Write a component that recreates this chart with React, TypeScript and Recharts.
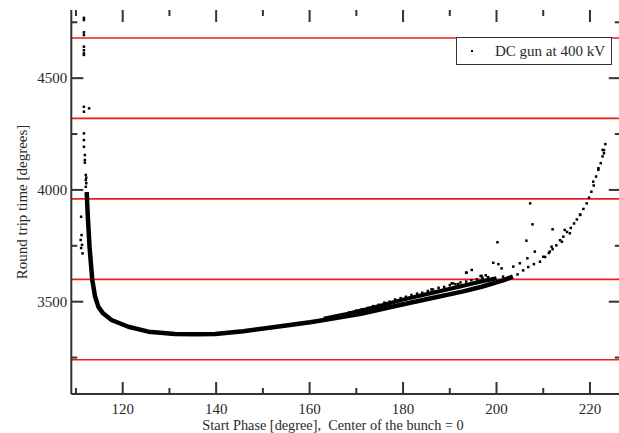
import React from "react";
import {
  ComposedChart,
  Scatter,
  XAxis,
  YAxis,
  ReferenceLine,
  Legend,
} from "recharts";

// main dense band of the bunch (drawn as a thick joined scatter)
const mainX = [112.3, 112.5, 112.7, 112.9, 113.2, 113.5, 114.1, 114.8, 115.8, 117.6, 121.2, 125.5, 131.2, 135.5, 139.8, 145.8, 153.0, 160.1, 164.3, 171.0, 178.6, 185.5, 192.9, 197.0, 201.4, 203.5];
const mainY = [3990, 3895, 3820, 3746, 3670, 3597, 3522, 3477, 3448, 3418, 3388, 3366, 3355, 3354, 3355, 3368, 3388, 3408, 3422, 3446, 3482, 3513, 3546, 3568, 3595, 3612];

// upper edge of the widened band between 163 and 200 degrees
const upperX = [163, 168, 172, 176, 180, 184, 188, 192, 196, 200];
const upperY = [3424, 3445, 3465, 3487, 3509, 3529, 3548, 3567, 3587, 3605];

// ragged particles on top of the band
const spreadX = [168.5, 170.0, 171.2, 172.5, 173.6, 174.8, 176.0, 177.1, 178.3, 179.5, 180.6, 181.8, 183.0, 184.1, 185.3, 186.4, 187.6, 188.8, 190.0, 191.2, 192.3, 193.5, 194.6, 195.8, 197.0, 198.2];
const spreadY = [3452, 3460, 3466, 3472, 3480, 3486, 3496, 3500, 3510, 3516, 3522, 3530, 3536, 3540, 3548, 3554, 3562, 3566, 3574, 3578, 3586, 3590, 3596, 3600, 3606, 3610];

// single points on the rising tail
const tailX = [204.5, 205.7, 206.8, 208.0, 209.3, 210.4, 211.2, 212.0, 212.8, 213.6, 214.3, 215.1, 215.9, 216.6, 217.2, 217.9, 218.6, 219.3, 219.8, 220.3, 220.8, 221.3, 221.8, 222.3, 222.7, 223.0, 223.3];
const tailY = [3622, 3640, 3655, 3668, 3679, 3700, 3718, 3735, 3752, 3775, 3791, 3812, 3830, 3850, 3868, 3890, 3915, 3940, 3965, 3992, 4020, 4060, 4090, 4120, 4150, 4178, 4205];

// stray particles right side
const strayRightX = [207.2, 207.7, 212.0, 200.2, 206.4, 214.6, 215.7, 217.9, 208.2, 206.6, 199.3, 200.4, 201.1, 194.7, 193.5, 203.6, 205.0, 196.6, 197.7, 190.4, 191.8, 186.1, 211.8, 214.0, 210.0, 211.4, 220.7, 221.8, 222.7, 223.0, 190.7, 196.8, 193.6, 201.4];
const strayRightY = [3940, 3846, 3824, 3766, 3773, 3821, 3806, 3888, 3724, 3694, 3674, 3668, 3649, 3642, 3630, 3657, 3672, 3615, 3618, 3582, 3579, 3555, 3746, 3768, 3701, 3724, 4037, 4097, 4179, 4164, 3582, 3615, 3630, 3612];

// stray particles near the 112 degree edge
const strayLeftX = [111.7, 111.7, 111.7, 111.7, 111.7, 111.7, 111.7, 111.7, 111.7, 112.8, 111.7, 111.7, 111.7, 111.7, 111.9, 111.9, 111.9, 112.1, 112.1, 112.1, 112.3, 112.2, 112.2, 111.1, 111.2, 111.0, 111.3, 111.4, 111.1];
const strayLeftY = [4770, 4760, 4705, 4693, 4641, 4625, 4611, 4604, 4372, 4365, 4350, 4253, 4223, 4193, 4156, 4134, 4122, 4067, 4044, 4014, 3985, 4030, 4055, 3880, 3798, 3776, 3754, 3716, 3740];

const redLevels = [3240, 3600, 3960, 4320, 4680];

const xMajor = [120, 140, 160, 180, 200, 220];
const xMinor = [110, 130, 150, 170, 190, 210];
const yMajor = [3500, 4000, 4500];
const yMinor = [3250, 3750, 4250, 4750];
const xDomain = [109, 226.6];
const yDomain = [3087, 4805];

const legendLabel = "DC gun at 400 kV";
const xTitle = "Start Phase [degree],  Center of the bunch = 0";
const yTitle = "Round trip time [degrees]";

const FONT = "'Liberation Serif', 'DejaVu Serif', serif";
const AXIS = "#333";
const TEXT = "#2a2a2a";
const GAP = 4;

const toPts = (xs: number[], ys: number[]) => xs.map((x, i) => ({ x, y: ys[i] }));
const mainData = toPts(mainX, mainY);
const upperData = toPts(upperX, upperY);
const dotData = [
  ...toPts(spreadX, spreadY),
  ...toPts(tailX, tailY),
  ...toPts(strayRightX, strayRightY),
  ...toPts(strayLeftX, strayLeftY),
];

const Dot = (p: any) => (
  <rect x={p.cx - 1.25} y={p.cy - 1.25} width={2.5} height={2.5} fill="#000" />
);
const NoDot = () => <g />;

// inward tick marks on both opposite frame edges
const vTick = (len: number) => (p: any) => {
  const a = Number(p.y1);
  const b = Number(p.y2);
  const lo = Math.max(a, b);
  const hi = Math.min(a, b);
  const x = Number(p.x1);
  return (
    <g>
      <rect x={x - 1} y={hi} width={2} height={len} fill={AXIS} />
      <rect x={x - 1} y={lo - len} width={2} height={len} fill={AXIS} />
    </g>
  );
};
const hTick = (len: number) => (p: any) => {
  const a = Number(p.x1);
  const b = Number(p.x2);
  const l = Math.min(a, b);
  const r = Math.max(a, b);
  const y = Number(p.y1);
  return (
    <g>
      <rect x={r - len} y={y - 1} width={len} height={2} fill={AXIS} />
      <rect x={l} y={y - 1} width={len} height={2} fill={AXIS} />
    </g>
  );
};

const LeftLabel = (p: any) => (
  <text x={p.x} y={p.y} dy={5} textAnchor="end" fontSize={15} fontFamily={FONT} fill={TEXT}>
    {p.payload.value}
  </text>
);

const BottomLabel = (p: any) => (
  <text x={p.x} y={p.y} dy={16} textAnchor="middle" fontSize={15} fontFamily={FONT} fill={TEXT}>
    {p.payload.value}
  </text>
);

const axisLine = { stroke: AXIS, strokeWidth: 2 };

export default function App() {
  return (
    <div style={{ position: "absolute", left: 0, top: 0, width: 619, height: 433, overflow: "hidden", background: "#fff" }}>
      <ComposedChart
        width={640}
        height={433}
        margin={{ top: 10, right: 19.2, bottom: 0, left: 11.3 }}
      >
        <XAxis
          dataKey="x"
          type="number"
          domain={xDomain}
          allowDataOverflow
          ticks={xMajor}
          interval={0}
          height={39}
          tickSize={0}
          tickMargin={GAP}
          tickLine={false}
          tick={<BottomLabel />}
          axisLine={axisLine}
          label={{
            content: (props: any) => {
              const vb = props.viewBox;
              return (
                <text
                  x={vb.x + vb.width / 2 - 13}
                  y={430}
                  textAnchor="middle"
                  fontSize={14.3}
                  fontFamily={FONT}
                  fill={TEXT}
                  style={{ whiteSpace: "pre" }}
                >
                  {xTitle}
                </text>
              );
            },
          }}
        />
        <XAxis
          xAxisId="top"
          orientation="top"
          dataKey="x"
          type="number"
          domain={xDomain}
          allowDataOverflow
          height={0}
          tick={false}
          tickLine={false}
          axisLine={axisLine}
        />
        <YAxis
          type="number"
          domain={yDomain}
          allowDataOverflow
          ticks={yMajor}
          interval={0}
          width={60}
          tickSize={0}
          tickMargin={GAP}
          tickLine={false}
          tick={<LeftLabel />}
          axisLine={axisLine}
          label={{
            content: () => (
              <text
                transform="translate(27, 202) rotate(-90)"
                textAnchor="middle"
                fontSize={15}
                fontFamily={FONT}
                fill={TEXT}
              >
                {yTitle}
              </text>
            ),
          }}
        />
        <YAxis
          yAxisId="right"
          orientation="right"
          type="number"
          domain={yDomain}
          allowDataOverflow
          width={0}
          tick={false}
          tickLine={false}
          axisLine={axisLine}
        />
        {redLevels.map((v) => (
          <ReferenceLine key={v} y={v} stroke="#ec1c1c" strokeWidth={1.6} ifOverflow="hidden" />
        ))}
        <Scatter
          name={legendLabel}
          data={upperData}
          dataKey="y"
          fill="#000"
          line={{ stroke: "#000", strokeWidth: 4, strokeLinejoin: "round" }}
          shape={<NoDot />}
          legendType="none"
          isAnimationActive={false}
        />
        <Scatter
          name={legendLabel}
          data={mainData}
          dataKey="y"
          fill="#000"
          line={{ stroke: "#000", strokeWidth: 4.5, strokeLinejoin: "round" }}
          shape={<NoDot />}
          legendType="none"
          isAnimationActive={false}
        />
        <Scatter
          name={legendLabel}
          data={dotData}
          dataKey="y"
          fill="#000"
          shape={<Dot />}
          isAnimationActive={false}
        />
        {xMajor.map((v) => (
          <ReferenceLine key={`xM${v}`} x={v} ifOverflow="visible" shape={vTick(12)} />
        ))}
        {xMinor.map((v) => (
          <ReferenceLine key={`xm${v}`} x={v} ifOverflow="visible" shape={vTick(6)} />
        ))}
        {yMajor.map((v) => (
          <ReferenceLine key={`yM${v}`} y={v} ifOverflow="visible" shape={hTick(12)} />
        ))}
        {yMinor.map((v) => (
          <ReferenceLine key={`ym${v}`} y={v} ifOverflow="visible" shape={hTick(6)} />
        ))}
        <Legend
          layout="horizontal"
          verticalAlign="middle"
          align="center"
          wrapperStyle={{ position: "absolute", left: 456, top: 37, width: 156, height: 28 }}
          content={() => (
            <div
              style={{
                boxSizing: "border-box",
                position: "relative",
                width: 156,
                height: 28,
                border: "1.5px solid #333",
                background: "#fff",
                fontFamily: FONT,
                fontSize: 15,
                color: TEXT,
              }}
            >
              <span style={{ position: "absolute", left: 14, top: 11.5, width: 2.4, height: 2.4, background: "#000" }} />
              <span style={{ position: "absolute", left: 38, top: 3.5, lineHeight: "18px", whiteSpace: "nowrap" }}>
                {legendLabel}
              </span>
            </div>
          )}
        />
      </ComposedChart>
    </div>
  );
}
